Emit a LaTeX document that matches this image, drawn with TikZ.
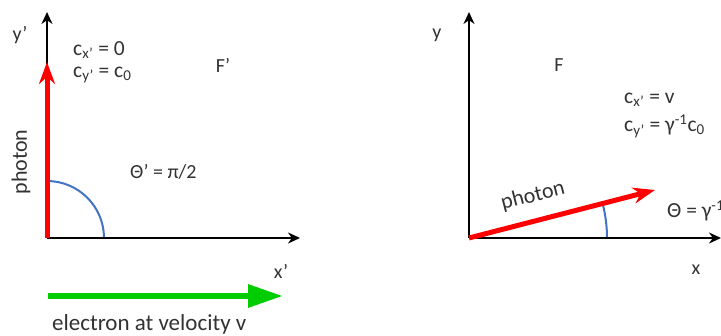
\documentclass[tikz,border=0pt]{standalone}
\usepackage{fontspec}
\setmainfont{Carlito}
\usetikzlibrary{arrows.meta}
\definecolor{arcblue}{RGB}{68,114,196}
\definecolor{elgreen}{RGB}{0,204,0}
\definecolor{txt}{RGB}{50,50,50}
\begin{document}
\begin{tikzpicture}[x=1pt,y=-1pt,
  lbl/.style={font=\fontsize{20}{24}\selectfont, inner sep=0pt, text=txt},
  big/.style={font=\fontsize{21.5}{25}\selectfont},
  phlbl/.style={font=\fontsize{22}{26}\selectfont},
  axis/.style={line width=2pt, -{Stealth[length=12pt,width=11pt]}},
  photonarrow/.style={red, line width=5pt, -{Stealth[length=22pt,width=16pt]}},
  electronarrow/.style={elgreen, line width=6pt, -{Triangle[length=35pt,width=22pt]}},
  anglearc/.style={arcblue, line width=2pt}]
\useasboundingbox (0,0) rectangle (721,336);
% left frame
\coordinate (O1) at (47,238);
\coordinate (Y1) at (47,12);
\coordinate (X1) at (300,238);
\coordinate (P1) at (47,62);
\coordinate (A1) at (104,238);
\coordinate (E1) at (48,296);
\coordinate (E2) at (283,296);
\draw[anglearc] (A1) arc[start angle=0, end angle=-90, radius=57];
\draw[axis] (O1) -- (Y1);
\draw[axis] (O1) -- (X1);
\draw[photonarrow] (O1) -- (P1);
\draw[electronarrow] (E1) -- (E2);
\node[lbl] (ly) at (20,35) {y’};
\node[lbl] (lx) at (281,271) {x’};
\node[lbl, big, anchor=west] (lcx) at (73,50) {c\textsubscript{x’} = 0};
\node[lbl, big, anchor=west] (lcy) at (73,75) {c\textsubscript{y’} = c\textsubscript{0}};
\node[lbl] (lF1) at (223,65) {F’};
\node[lbl, phlbl, rotate=90] (lph1) at (21,162) {photon};
\node[lbl, anchor=west] (lth1) at (130,172) {Θ’ = π/2};
\node[lbl, font=\fontsize{23}{27}\selectfont, anchor=west] (lel) at (52,324) {electron at velocity v};
% right frame
\coordinate (O2) at (469,238);
\coordinate (Y2) at (469,12);
\coordinate (X2) at (721,238);
\coordinate (P2) at (655,190);
\coordinate (A2) at (607,238);
\draw[anglearc] (A2) arc[start angle=0, end angle=-14.5, radius=138];
\draw[axis] (O2) -- (Y2);
\draw[axis] (O2) -- (X2);
\draw[photonarrow] (O2) -- (P2);
\node[lbl] (ly2) at (437,35) {y};
\node[lbl] (lx2) at (696,270) {x};
\node[lbl] (lF2) at (559,65) {F};
\node[lbl, big, anchor=west] (lcx2) at (624,100) {c\textsubscript{x’} = v};
\node[lbl, big, anchor=west] (lcy2) at (624,126) {c\textsubscript{y’} = γ\textsuperscript{-1}c\textsubscript{0}};
\node[lbl, phlbl, rotate=14.5] (lph2) at (533,196) {photon};
\node[lbl, big, anchor=west] (lth2) at (667,211) {Θ = γ\textsuperscript{-1}};
\end{tikzpicture}
\end{document}
